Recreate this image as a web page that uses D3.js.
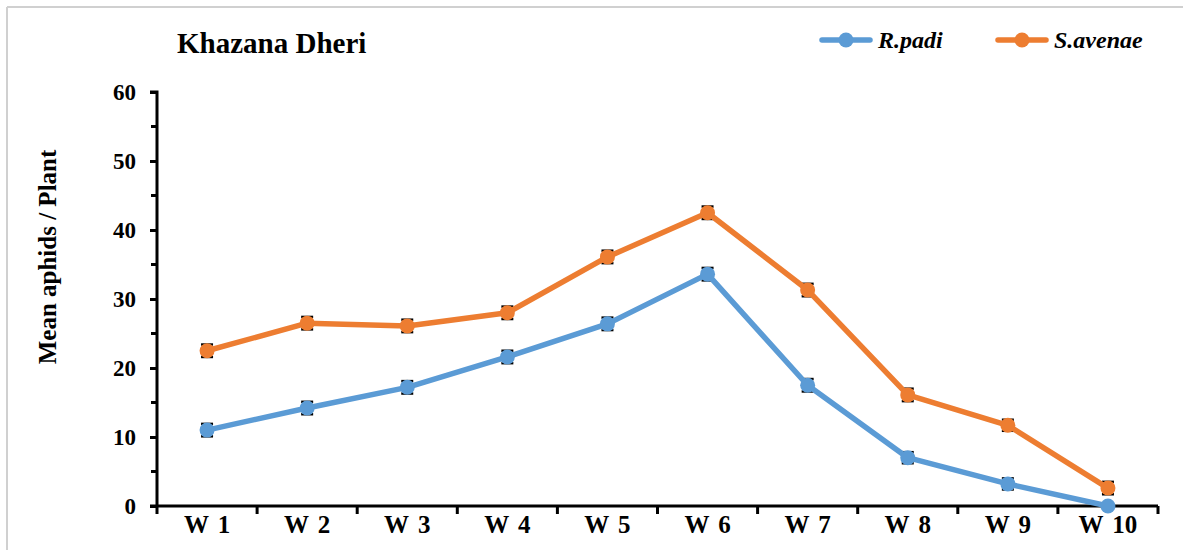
<!DOCTYPE html>
<html>
<head>
<meta charset="utf-8">
<script src="https://cdn.jsdelivr.net/npm/d3@7"></script>
<style>
  html, body { margin: 0; padding: 0; background: #fff; }
  svg { display: block; }
  text { font-family: "Liberation Serif", "Times New Roman", serif; font-weight: bold; fill: #000; }
</style>
</head>
<body>
<svg id="chart" width="1183" height="550"></svg>
<script>
// Weekly mean aphid counts per plant at Khazana Dheri
const weeks = ["W 1", "W 2", "W 3", "W 4", "W 5", "W 6", "W 7", "W 8", "W 9", "W 10"];
const rPadi = [11.0, 14.2, 17.2, 21.6, 26.4, 33.6, 17.5, 7.0, 3.2, 0.0];
const rPadiErr = [0.9, 0.9, 0.9, 0.9, 0.9, 0.9, 0.9, 0.8, 0.8, 0.0];
const sAvenae = [22.5, 26.5, 26.1, 28.0, 36.1, 42.5, 31.3, 16.1, 11.7, 2.6];
const sAvenaeErr = [0.9, 0.9, 0.9, 0.9, 0.9, 0.9, 0.9, 0.9, 0.8, 0.9];
const yTicks = [0, 10, 20, 30, 40, 50, 60];
const yMinorTicks = [5, 15, 25, 35, 45, 55];

const series = [
  { name: "R.padi", values: rPadi, errors: rPadiErr, color: "#5B9BD5" },
  { name: "S.avenae", values: sAvenae, errors: sAvenaeErr, color: "#ED7D31" }
];

const svg = d3.select("#chart");
const margin = { left: 157, right: 25, top: 92, bottom: 44 };
const width = 1183, height = 550;

// Outer frame edges (top and left)
svg.append("line").attr("x1", 7).attr("x2", width).attr("y1", 7).attr("y2", 7)
  .attr("stroke", "#d0d0d0").attr("stroke-width", 2);
svg.append("line").attr("x1", 7).attr("x2", 7).attr("y1", 7).attr("y2", height)
  .attr("stroke", "#d0d0d0").attr("stroke-width", 2);

const x = d3.scaleBand().domain(weeks)
  .range([margin.left, width - margin.right]).paddingInner(0).paddingOuter(0);
const y = d3.scaleLinear().domain([0, 60]).range([height - margin.bottom, margin.top]);

// Y axis
const yAxis = svg.append("g").attr("transform", `translate(${margin.left},0)`)
  .call(d3.axisLeft(y).tickValues(yTicks).tickSize(7).tickPadding(14).tickFormat(d3.format("d")));
yAxis.select(".domain").attr("stroke", "#000").attr("stroke-width", 3)
  .attr("d", `M-7,${y(60)}H0V${y(0)}`);
yAxis.selectAll(".tick line").attr("stroke", "#000").attr("stroke-width", 3);
yAxis.selectAll(".tick text").attr("font-size", 23).attr("font-family", "Liberation Serif").attr("font-weight", "bold");
svg.append("g").attr("transform", `translate(${margin.left},0)`)
  .selectAll("line").data(yMinorTicks).join("line")
  .attr("x1", -6).attr("x2", 0).attr("y1", d => y(d)).attr("y2", d => y(d))
  .attr("stroke", "#000").attr("stroke-width", 3);

// X axis with ticks at category boundaries
const xAxisG = svg.append("g").attr("transform", `translate(0,${y(0)})`);
xAxisG.append("line").attr("x1", margin.left - 7).attr("x2", width - margin.right)
  .attr("y1", 0).attr("y2", 0).attr("stroke", "#000").attr("stroke-width", 3);
const boundaries = weeks.map(w => x(w)).concat([x(weeks[weeks.length - 1]) + x.bandwidth()]);
xAxisG.selectAll("line.tick").data(boundaries).join("line").attr("class", "tick")
  .attr("x1", d => d).attr("x2", d => d).attr("y1", 0).attr("y2", 8)
  .attr("stroke", "#000").attr("stroke-width", 3);
xAxisG.selectAll("text").data(weeks).join("text")
  .attr("x", d => x(d) + x.bandwidth() / 2).attr("y", 27)
  .attr("text-anchor", "middle").attr("font-size", 25).attr("word-spacing", 3).text(d => d);

// Y axis title
svg.append("text").attr("transform", "translate(56,257) rotate(-90)")
  .attr("text-anchor", "middle").attr("font-size", 25).text("Mean aphids / Plant");

// Chart title
svg.append("text").attr("x", 177).attr("y", 53).attr("font-size", 29).text("Khazana Dheri");

const cx = d => x(d) + x.bandwidth() / 2;
const line = d3.line().x(d => cx(d.week)).y(d => y(d.value));

series.forEach(s => {
  const pts = weeks.map((w, i) => ({ week: w, value: s.values[i], err: s.errors[i] }));
  const g = svg.append("g");
  // error bars
  const eb = g.selectAll("g.err").data(pts.filter(p => p.err > 0)).join("g").attr("class", "err");
  eb.append("line").attr("x1", d => cx(d.week)).attr("x2", d => cx(d.week))
    .attr("y1", d => y(d.value - d.err)).attr("y2", d => y(d.value + d.err))
    .attr("stroke", "#000").attr("stroke-width", 1.5);
  eb.selectAll("line.cap").data(d => [d.value - d.err, d.value + d.err].map(v => ({ week: d.week, v })))
    .join("line").attr("class", "cap")
    .attr("x1", d => cx(d.week) - 6).attr("x2", d => cx(d.week) + 6)
    .attr("y1", d => y(d.v)).attr("y2", d => y(d.v))
    .attr("stroke", "#000").attr("stroke-width", 2.5);
  g.append("path").datum(pts).attr("d", line).attr("fill", "none")
    .attr("stroke", s.color).attr("stroke-width", 5.5).attr("stroke-linejoin", "round");
  g.selectAll("circle").data(pts).join("circle")
    .attr("cx", d => cx(d.week)).attr("cy", d => y(d.value)).attr("r", 7.5)
    .attr("fill", s.color);
});

// Legend
const legendX = [822, 998];
const legend = svg.append("g");
series.forEach((s, i) => {
  const lg = legend.append("g").attr("transform", `translate(${legendX[i]},40)`);
  lg.append("line").attr("x1", 0).attr("x2", 48).attr("y1", 0).attr("y2", 0)
    .attr("stroke", s.color).attr("stroke-width", 5.5).attr("stroke-linecap", "round");
  lg.append("circle").attr("cx", 24).attr("cy", 0).attr("r", 7.5).attr("fill", s.color);
  lg.append("text").attr("x", 56).attr("y", 8).attr("font-size", 24)
    .attr("font-style", "italic").text(s.name);
});
</script>
</body>
</html>
